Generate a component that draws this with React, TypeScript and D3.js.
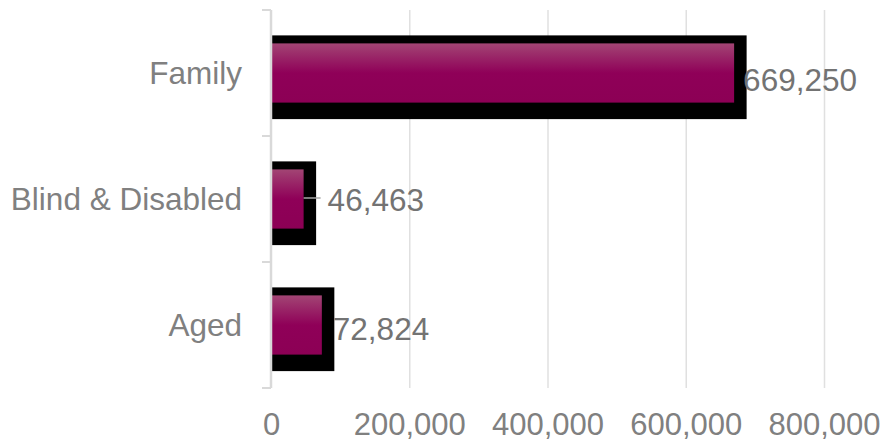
import React from "react";
import * as d3 from "d3";

const categories = ["Family", "Blind & Disabled", "Aged"];
const values = [669250, 46463, 72824];
const xTicks = [0, 200000, 400000, 600000, 800000];
const labelDx = [9, 24, 11];
const labelDy = [6, 0, 3];

const W = 884;
const H = 442;

export default function App() {
  const x = d3.scaleLinear().domain([0, 800000]).range([271.5, 824.5]);
  const y = d3
    .scaleBand<string>()
    .domain(categories)
    .range([10, 388])
    .paddingInner(0.53)
    .paddingOuter(0.265);
  const step = y.step();
  const bw = y.bandwidth();
  const fmt = d3.format(",");
  const bounds = d3.range(categories.length + 1).map((i) => 10 + i * step);

  return (
    <svg
      width={W}
      height={H}
      style={{ position: "absolute", left: 0, top: 0, background: "#fff" }}
      fontFamily="'Liberation Sans', Arial, sans-serif"
    >
      <defs>
        <linearGradient id="barGrad" x1="0" y1="0" x2="0" y2="1">
          <stop offset="0" stopColor="#a24574" />
          <stop offset="0.5" stopColor="#8f0058" />
          <stop offset="1" stopColor="#8c0055" />
        </linearGradient>
      </defs>
      {xTicks.slice(1).map((t) => (
        <line
          key={t}
          x1={x(t)}
          x2={x(t)}
          y1={10}
          y2={388}
          stroke="#e0e0e0"
          strokeWidth={1.5}
        />
      ))}
      {values.map((v, i) => {
        const y0 = y(categories[i])!;
        return (
          <g key={categories[i]}>
            <rect
              x={x(0) + 0.5}
              y={y0 - 8}
              width={x(v) - x(0) + 12}
              height={bw + 24.5}
              fill="#000"
            />
            <rect
              x={x(0) + 0.5}
              y={y0}
              width={x(v) - x(0) - 0.5}
              height={bw}
              fill="url(#barGrad)"
            />
          </g>
        );
      })}
      <line x1={271} x2={271} y1={10} y2={388} stroke="#d9d9d9" strokeWidth={2.5} />
      {bounds.map((b) => (
        <line key={b} x1={262} x2={271} y1={b} y2={b} stroke="#d9d9d9" strokeWidth={2} />
      ))}
      {categories.map((c) => (
        <text
          key={c}
          x={242}
          y={y(c)! + bw / 2 + 11}
          textAnchor="end"
          fontSize={31.5}
          fill="#808080"
        >
          {c}
        </text>
      ))}
      {xTicks.map((t) => (
        <text
          key={t}
          x={x(t)}
          y={435}
          textAnchor="middle"
          fontSize={31}
          fill="#808080"
        >
          {fmt(t)}
        </text>
      ))}
      {values.map((v, i) => {
        const cy = y(categories[i])! + bw / 2;
        const lx = x(v) + labelDx[i];
        return (
          <g key={"l" + i}>
            {labelDx[i] > 15 && (
              <line
                x1={x(v)}
                x2={lx - 7}
                y1={cy - 1}
                y2={cy - 1}
                stroke="#a6a6a6"
                strokeWidth={1.5}
              />
            )}
            <text
              x={lx}
              y={cy + labelDy[i] + 11.5}
              fontSize={31.5}
              fill="#737373"
            >
              {fmt(v)}
            </text>
          </g>
        );
      })}
    </svg>
  );
}
